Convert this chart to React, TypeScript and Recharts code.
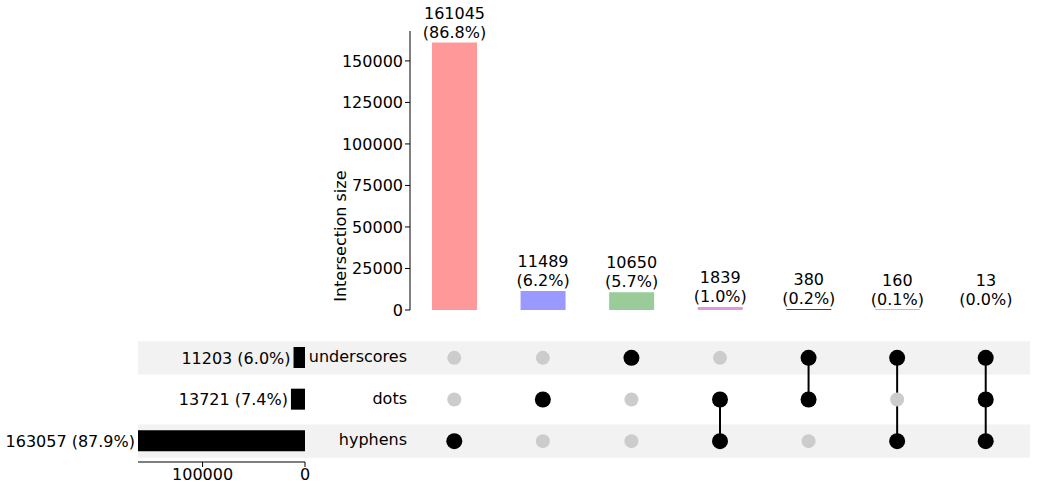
import React from 'react';
import {
  ComposedChart,
  Bar,
  XAxis,
  YAxis,
  Cell,
  LabelList,
  ScatterChart,
  Scatter,
  ReferenceArea,
  BarChart,
} from 'recharts';

const FONT = 'DejaVu Sans, sans-serif';

// intersections, left to right
const INTERSECTION_SIZES = [161045, 11489, 10650, 1839, 380, 160, 13];
const INTERSECTION_PCT = ['86.8%', '6.2%', '5.7%', '1.0%', '0.2%', '0.1%', '0.0%'];
const BAR_COLORS = ['#ff9999', '#9999ff', '#99cc99', '#dd99dd', '#000000', '#000000', '#000000'];
// membership per column: [hyphens, dots, underscores]
const MEMBERSHIP = [
  [1, 0, 0],
  [0, 1, 0],
  [0, 0, 1],
  [1, 1, 0],
  [0, 1, 1],
  [1, 0, 1],
  [1, 1, 1],
];
const Y_TICKS = [0, 25000, 50000, 75000, 100000, 125000, 150000];

// sets, top to bottom
const SET_NAMES = ['underscores', 'dots', 'hyphens'];
const SET_SIZES = [11203, 13721, 163057];
const SET_PCT = ['6.0%', '7.4%', '87.9%'];

const topData = INTERSECTION_SIZES.map((v, i) => ({ name: `c${i}`, value: v, pct: INTERSECTION_PCT[i] }));
const setData = SET_NAMES.map((n, i) => ({ name: n, value: SET_SIZES[i], pct: SET_PCT[i] }));

// row index: hyphens=0, dots=1, underscores=2
const dotsOn: { x: number; y: number }[] = [];
const dotsOff: { x: number; y: number }[] = [];
MEMBERSHIP.forEach((m, c) =>
  m.forEach((v, r) => (v ? dotsOn : dotsOff).push({ x: c, y: r }))
);
const connectors = MEMBERSHIP.map((m, c) =>
  m.map((v, r) => (v ? { x: c, y: r } : null)).filter(Boolean) as { x: number; y: number }[]
).filter((pts) => pts.length > 1);

const TopLabel = (props: any) => {
  const { x, y, width, index } = props;
  const cx = x + width / 2;
  return (
    <text x={cx} textAnchor="middle" fontSize={16} fontFamily={FONT} fill="#000">
      <tspan x={cx} y={y - 24}>{INTERSECTION_SIZES[index]}</tspan>
      <tspan x={cx} y={y - 5}>({INTERSECTION_PCT[index]})</tspan>
    </text>
  );
};

const SetLabel = (props: any) => {
  const { x, y, width, height, index } = props;
  const left = Math.min(x, x + width);
  return (
    <text x={left - 3} y={y + height / 2 + 6} textAnchor="end" fontSize={16} fontFamily={FONT} fill="#000">
      {SET_SIZES[index]} ({SET_PCT[index]})
    </text>
  );
};

const Dot = (color: string, r: number) => (props: any) =>
  <circle cx={props.cx} cy={props.cy} r={r} fill={color} />;

const abs = (l: number, t: number): React.CSSProperties => ({ position: 'absolute', left: l, top: t });

export default function App() {
  return (
    <div style={{ position: 'absolute', left: 0, top: 0, width: 1038, height: 493, background: '#fff', fontFamily: FONT }}>
      {/* intersection bars */}
      <div style={abs(0, 0)}>
        <ComposedChart width={1038} height={320} data={topData} margin={{ top: 31, right: 8, bottom: 10, left: 0 }}>
          <XAxis dataKey="name" hide />
          <YAxis
            width={410}
            domain={[0, 168000]}
            ticks={Y_TICKS}
            interval={0}
            allowDataOverflow
            tick={{ fontSize: 16, fill: '#000', fontFamily: FONT }}
            tickSize={5}
            axisLine={{ stroke: '#000' }}
            tickLine={{ stroke: '#000' }}
            label={{ value: 'Intersection size', angle: -90, position: 'insideRight', offset: 70, fontSize: 16, fill: '#000', fontFamily: FONT }}
          />
          <Bar dataKey="value" barSize={45} isAnimationActive={false}>
            {topData.map((d, i) => <Cell key={d.name} fill={BAR_COLORS[i]} />)}
            <LabelList dataKey="value" content={<TopLabel />} />
          </Bar>
        </ComposedChart>
      </div>

      {/* matrix */}
      <div style={abs(0, 0)}>
        <ScatterChart width={1038} height={493} margin={{ top: 337, right: 8, bottom: 31, left: 138 }}>
          <XAxis type="number" dataKey="x" domain={[-3.571, 6.5]} hide allowDataOverflow />
          <YAxis type="number" dataKey="y" domain={[-0.5, 2.5]} hide allowDataOverflow />
          <ReferenceArea x1={-3.571} x2={6.5} y1={1.6} y2={2.4} fill="#f2f2f2" fillOpacity={1} stroke="none" />
          <ReferenceArea x1={-3.571} x2={6.5} y1={-0.4} y2={0.4} fill="#f2f2f2" fillOpacity={1} stroke="none" />
          {connectors.map((pts, i) => (
            <Scatter key={i} data={pts} line={{ stroke: '#000', strokeWidth: 2 }} shape={() => null} isAnimationActive={false} />
          ))}
          <Scatter data={dotsOff} shape={Dot('#cccccc', 7)} isAnimationActive={false} />
          <Scatter data={dotsOn} shape={Dot('#000000', 8)} isAnimationActive={false} />
        </ScatterChart>
      </div>

      {/* row names */}
      {SET_NAMES.map((n, i) => (
        <div key={n} style={{ position: 'absolute', left: 300, width: 107, top: 347 + i * 41.5, textAlign: 'right', fontSize: 16, lineHeight: '20px' }}>
          {n}
        </div>
      ))}

      {/* set sizes */}
      <div style={abs(0, 0)}>
        <BarChart layout="vertical" width={310} height={493} data={setData} margin={{ top: 337, right: 5, bottom: 0, left: 138 }}>
          <XAxis
            type="number"
            reversed
            domain={[0, 163057]}
            ticks={[0, 100000]}
            height={31}
            tick={{ fontSize: 16, fill: '#000', fontFamily: FONT }}
            axisLine={{ stroke: '#000' }}
            tickLine={{ stroke: '#000' }}
            tickSize={5}
          />
          <YAxis type="category" dataKey="name" hide />
          <Bar dataKey="value" fill="#000" barSize={21} isAnimationActive={false}>
            <LabelList dataKey="value" content={<SetLabel />} />
          </Bar>
        </BarChart>
      </div>
    </div>
  );
}
